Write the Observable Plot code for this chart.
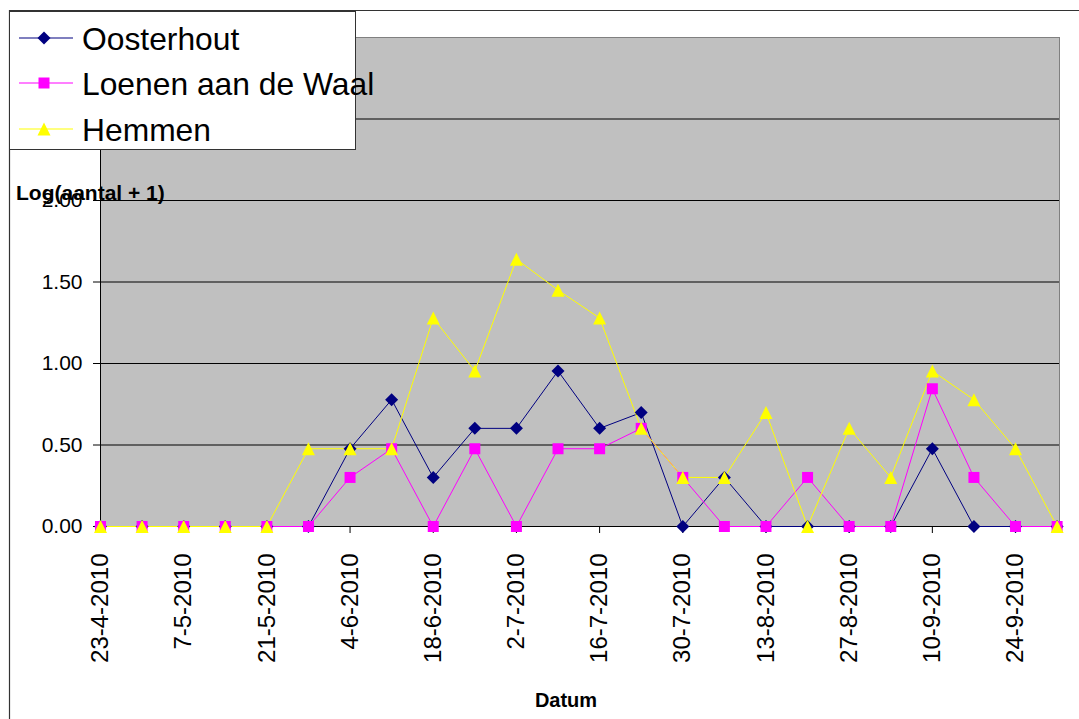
<!DOCTYPE html>
<html>
<head>
<meta charset="utf-8">
<script src="https://cdn.jsdelivr.net/npm/d3@7"></script>
<script src="https://cdn.jsdelivr.net/npm/@observablehq/plot@0.6"></script>
<style>
  body { margin: 0; background: #fff; font-family: "Liberation Sans", Arial, sans-serif; }
  #wrap { position: relative; width: 1079px; height: 719px; overflow: hidden; background: #fff; }
  #wrap > svg { position: absolute; left: 0; top: 0; }
  #legend { position: absolute; left: 9px; top: 11px; width: 345px; height: 137px; background: #fff; border: 1px solid #333; }
  .item { position: absolute; left: 0; height: 40px; width: 400px; white-space: nowrap; font-size: 31.8px; color: #000; }
  .item svg { position: absolute; left: 0; top: 0; }
  .item span { position: absolute; left: 72px; top: 1px; line-height: 40px; }
</style>
</head>
<body>
<div id="wrap"></div>
<script>
// ---- data ----
const dates = ["23-4-2010","30-4-2010","7-5-2010","14-5-2010","21-5-2010","28-5-2010",
  "4-6-2010","11-6-2010","18-6-2010","25-6-2010","2-7-2010","9-7-2010","16-7-2010","23-7-2010",
  "30-7-2010","6-8-2010","13-8-2010","20-8-2010","27-8-2010","3-9-2010","10-9-2010","17-9-2010",
  "24-9-2010","1-10-2010"];
const oosterhout = [0,0,0,0,0,0,0.477,0.778,0.301,0.602,0.602,0.954,0.602,0.699,0,0.301,0,0,0,0,0.477,0,0,0];
const loenen     = [0,0,0,0,0,0,0.301,0.477,0,0.477,0,0.477,0.477,0.602,0.301,0,0,0.301,0,0,0.845,0.301,0,0];
const hemmen     = [0,0,0,0,0,0.477,0.477,0.477,1.279,0.954,1.64,1.45,1.279,0.602,0.301,0.301,0.699,0,0.602,0.301,0.954,0.778,0.477,0];
const seriesNames = ["Oosterhout","Loenen aan de Waal","Hemmen"];
const seriesColors = ["#000080","#FF00FF","#FFFF00"];
const yTicks = [0,0.5,1,1.5,2,2.5,3];
const xTickLabels = ["23-4-2010","7-5-2010","21-5-2010","4-6-2010","18-6-2010","2-7-2010",
  "16-7-2010","30-7-2010","13-8-2010","27-8-2010","10-9-2010","24-9-2010"];
const yTitle = "Log(aantal + 1)";
const xTitle = "Datum";

// ---- helpers ----
const parse = s => { const [d,m,y] = s.split("-").map(Number); return new Date(Date.UTC(y, m-1, d)); };
const fmt = d => `${d.getUTCDate()}-${d.getUTCMonth()+1}-${d.getUTCFullYear()}`;

const diamondSym = {draw(c){ c.moveTo(0,-6.5); c.lineTo(6.5,0); c.lineTo(0,6.5); c.lineTo(-6.5,0); c.closePath(); }};
const squareSym  = {draw(c){ c.moveTo(-5.5,-5.5); c.lineTo(5.5,-5.5); c.lineTo(5.5,5.5); c.lineTo(-5.5,5.5); c.closePath(); }};
const triSym     = {draw(c){ c.moveTo(0,-6.5); c.lineTo(6.5,6.5); c.lineTo(-6.5,6.5); c.closePath(); }};
const symbols = [diamondSym, squareSym, triSym];

const valueLists = [oosterhout, loenen, hemmen];
const series = seriesNames.map((name, k) => ({
  name, color: seriesColors[k], symbol: symbols[k],
  data: dates.map((d, i) => ({date: parse(d), value: valueLists[k][i], series: name}))
}));

const x0 = parse(dates[0]);
const x1 = new Date(+parse(dates[dates.length-1]) + 0.4 * 864e5);

const chart = Plot.plot({
  width: 1079,
  height: 719,
  marginLeft: 100,
  marginRight: 20,
  marginTop: 37,
  marginBottom: 193,
  style: {fontFamily: '"Liberation Sans", Arial, sans-serif', color: "#000", background: "transparent", overflow: "visible"},
  x: {type: "utc", domain: [x0, x1]},
  y: {domain: [0, 3]},
  marks: [
    Plot.frame({fill: "#C0C0C0", stroke: "#808080"}),
    Plot.ruleY(yTicks.filter(v => v > 0 && v < 3), {stroke: "#000", strokeWidth: 1}),
    Plot.ruleY([0], {stroke: "#000"}),
    Plot.ruleX([x0], {stroke: "#000"}),
    Plot.axisY({ticks: yTicks, tickFormat: d3.format(".2f"), tickSize: 7, tickPadding: 11, fontSize: 21, label: null}),
    Plot.axisX({ticks: xTickLabels.map(parse), tickFormat: fmt, tickSize: 7, tickPadding: 20, tickRotate: -90, fontSize: 24, label: null}),
    ...series.map(s => Plot.line(s.data, {x: "date", y: "value", stroke: s.color, strokeWidth: 1})),
    ...series.map(s => Plot.dot(s.data, {x: "date", y: "value", symbol: s.symbol, fill: s.color, stroke: "none"}))
  ]
});

const svg = d3.select(chart);
svg.append("path").attr("d", "M9.5,719V10.5H1079").attr("fill", "none").attr("stroke", "#333").attr("stroke-width", 1.2);
svg.append("text").attr("x", 16).attr("y", 200).attr("text-anchor", "start").attr("font-weight", "bold").attr("font-size", 21).attr("fill", "#000").text(yTitle);
svg.append("text").attr("x", 566).attr("y", 707).attr("text-anchor", "middle").attr("font-weight", "bold").attr("font-size", 20).attr("fill", "#000").text(xTitle);

const wrap = document.getElementById("wrap");
wrap.appendChild(chart);

// ---- legend ----
const legend = document.createElement("div");
legend.id = "legend";
const rowTops = [6, 51, 97];
series.forEach((s, k) => {
  const item = document.createElement("div");
  item.className = "item";
  item.style.top = rowTops[k] + "px";
  const ls = d3.create("svg").attr("width", 70).attr("height", 40);
  ls.append("line").attr("x1", 9).attr("x2", 63).attr("y1", 20).attr("y2", 20).attr("stroke", s.color).attr("stroke-width", 1.2);
  const p = d3.path(); s.symbol.draw(p);
  ls.append("path").attr("d", p.toString()).attr("transform", "translate(34,20)").attr("fill", s.color);
  item.appendChild(ls.node());
  const span = document.createElement("span");
  span.textContent = s.name;
  item.appendChild(span);
  legend.appendChild(item);
});
wrap.appendChild(legend);
</script>
</body>
</html>
